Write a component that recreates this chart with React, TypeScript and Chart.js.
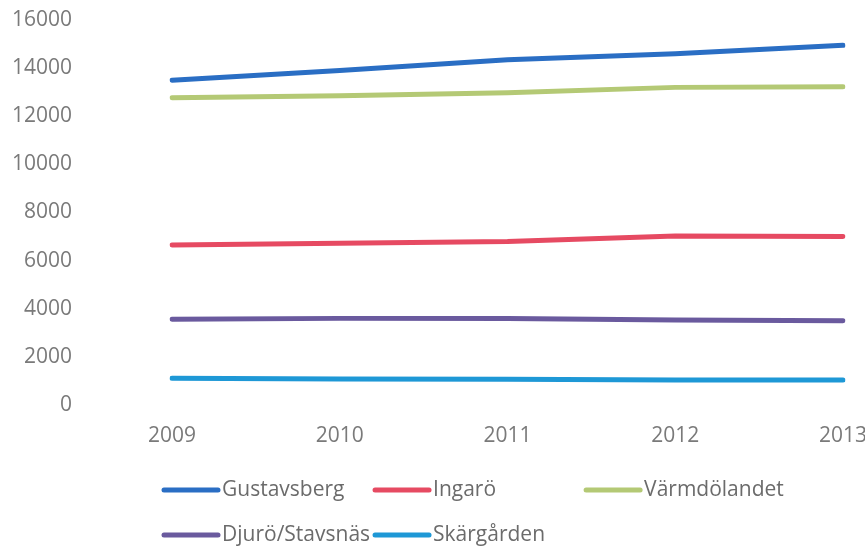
import React, { useEffect, useRef } from "react";
import { Chart, registerables } from "chart.js";

Chart.register(...registerables);

const years = ["2009", "2010", "2011", "2012", "2013"];
const gustavsberg = [13500, 13900, 14350, 14600, 14950];
const ingaro = [6650, 6720, 6790, 7020, 7000];
const varmdolandet = [12770, 12850, 12980, 13200, 13230];
const djuro = [3560, 3600, 3590, 3530, 3500];
const skargarden = [1110, 1080, 1070, 1040, 1040];
const yTicks = { min: 0, max: 16000, step: 2000 };

const seriesNames = ["Gustavsberg", "Ingarö", "Värmdölandet", "Djurö/Stavsnäs", "Skärgården"];
const seriesColors = ["#2a6ec4", "#e64a62", "#b4c975", "#6a5a9e", "#1e98d6"];
const seriesValues = [gustavsberg, ingaro, varmdolandet, djuro, skargarden];

const FONT = "'Open Sans', 'Liberation Sans', sans-serif";

const legendPlugin = {
  id: "customLegend",
  afterDraw(chart: any) {
    const ctx = chart.ctx;
    const ds = chart.data.datasets;
    ctx.save();
    ctx.font = `21px ${FONT}`;
    ctx.textBaseline = "middle";
    const sample = 58;
    const gap = 2;
    let maxW = 0;
    ds.forEach((d: any) => {
      maxW = Math.max(maxW, sample + gap + ctx.measureText(d.label).width);
    });
    const colW = maxW + 3;
    const left = 162;
    const perRow = 3;
    const rowY = [490, 535];
    ds.forEach((d: any, i: number) => {
      const col = i % perRow;
      const row = Math.floor(i / perRow);
      const x = left + col * colW;
      const y = rowY[row];
      ctx.strokeStyle = d.borderColor;
      ctx.lineWidth = 5;
      ctx.lineCap = "round";
      ctx.beginPath();
      ctx.moveTo(x + 2, y);
      ctx.lineTo(x + sample - 2, y);
      ctx.stroke();
      ctx.fillStyle = "#6b6b6b";
      ctx.textAlign = "left";
      ctx.fillText(d.label, x + sample + gap, y);
    });
    ctx.restore();
  },
};

export default function App() {
  const ref = useRef<HTMLCanvasElement>(null);
  useEffect(() => {
    if (!ref.current) return;
    const chart = new Chart(ref.current, {
      type: "line",
      data: {
        labels: years,
        datasets: seriesNames.map((n, i) => ({
          label: n,
          data: seriesValues[i],
          borderColor: seriesColors[i],
          backgroundColor: seriesColors[i],
          borderWidth: 5,
          borderCapStyle: "round" as const,
          pointRadius: 0,
          tension: 0,
          fill: false,
        })),
      },
      options: {
        animation: false,
        responsive: false,
        maintainAspectRatio: false,
        layout: { padding: { left: 0, right: 22, top: 20, bottom: 91 } },
        plugins: { legend: { display: false }, tooltip: { enabled: false } },
        scales: {
          x: {
            offset: false,
            grid: { display: false, drawTicks: false },
            border: { display: false },
            ticks: { color: "#7a7a7a", font: { family: FONT, size: 21 }, padding: 18, maxRotation: 0, autoSkip: false },
            afterFit: (s: any) => { s.height = 50; s.paddingLeft = 0; s.paddingRight = 0; },
          },
          y: {
            min: yTicks.min,
            max: yTicks.max,
            grid: { display: false, drawTicks: false },
            border: { display: false },
            ticks: {
              stepSize: yTicks.step,
              color: "#7a7a7a",
              font: { family: FONT, size: 21 },
              padding: 100,
              callback: (v: any) => String(v),
            },
            afterFit: (s: any) => { s.width = 172; s.paddingTop = 0; s.paddingBottom = 0; },
          },
        },
      },
      plugins: [legendPlugin],
    });
    return () => chart.destroy();
  }, []);
  return (
    <div style={{ position: "fixed", left: 0, top: 0, width: 865, height: 546, background: "#fff" }}>
      <canvas ref={ref} width={865} height={546} style={{ width: 865, height: 546 }} />
    </div>
  );
}
